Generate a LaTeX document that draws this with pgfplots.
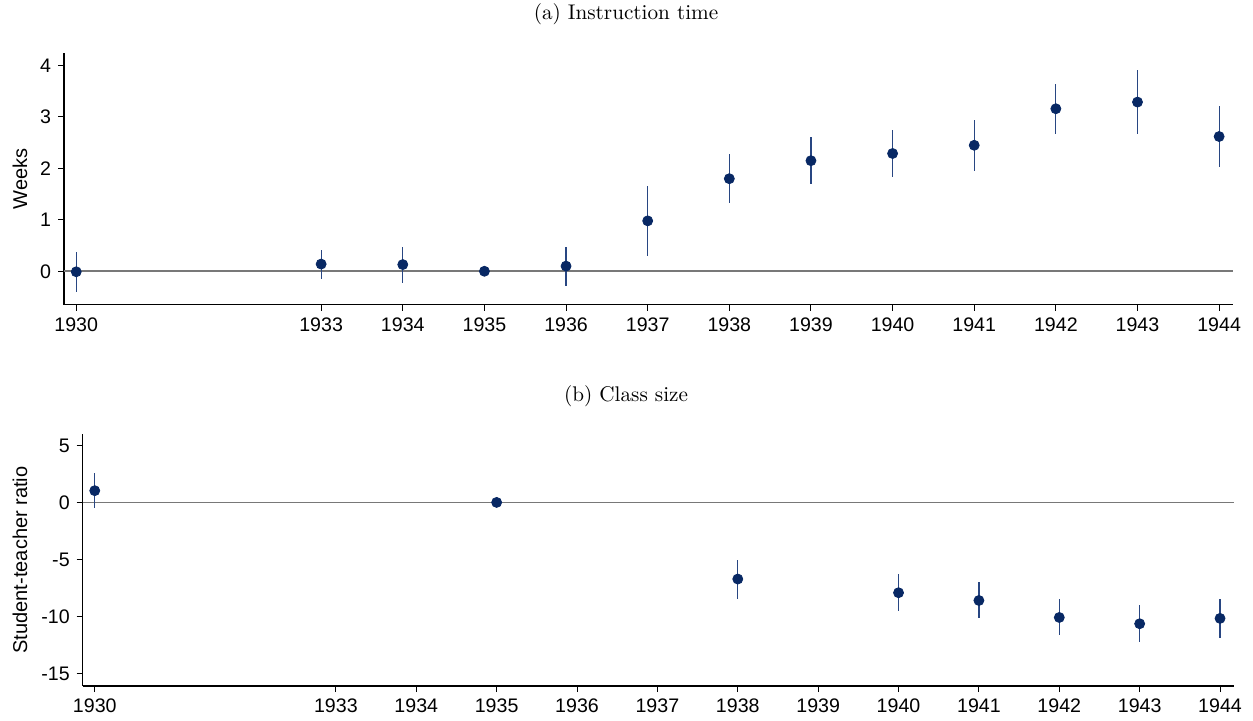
\documentclass[border=0pt]{standalone}
\usepackage{pgfplots}
\pgfplotsset{compat=1.18}
\usepackage{pgfplotstable}
\usepackage{fontspec}
\newfontfamily\hv{Liberation Sans}
\definecolor{navy}{RGB}{8,40,100}
\definecolor{cibar}{RGB}{40,70,130}
\definecolor{zline}{RGB}{120,120,120}

% year, estimate, plus, minus
\pgfplotstableread{
x y ep em
1930 -0.01 0.39 0.40
1933 0.14 0.28 0.29
1934 0.13 0.35 0.35
1935 0.00 0.00 0.00
1936 0.10 0.38 0.38
1937 0.98 0.68 0.69
1938 1.80 0.48 0.48
1939 2.15 0.47 0.46
1940 2.29 0.46 0.46
1941 2.45 0.50 0.50
1942 3.16 0.49 0.49
1943 3.29 0.63 0.62
1944 2.62 0.60 0.59
}\instr

\pgfplotstableread{
x y ep em
1930 1.03 1.55 1.55
1935 0.00 0.00 0.00
1938 -6.72 1.69 1.73
1940 -7.92 1.67 1.64
1941 -8.60 1.62 1.57
1942 -10.09 1.64 1.58
1943 -10.64 1.60 1.61
1944 -10.17 1.72 1.73
}\classs

\pgfplotsset{
  stata/.style={
    scale only axis,
    axis x line*=bottom,
    axis y line*=left,
    axis line style={-,black,line width=0.55pt},
    tick align=outside,
    major tick length=3pt,
    tick style={black,line width=0.5pt},
    xtick={1930,1933,1934,1935,1936,1937,1938,1939,1940,1941,1942,1943,1944},
    xticklabel style={/pgf/number format/1000 sep={}},
    xmin=1929.85, xmax=1944.17,
    ticklabel style={font=\hv\fontsize{9.8pt}{11pt}\selectfont},
    /pgf/number format/assume math mode=true,
    ylabel style={font=\hv\fontsize{10pt}{11pt}\selectfont, anchor=center},
    clip=false,
  },
}

\begin{document}
\begin{tikzpicture}
\useasboundingbox (0,0) rectangle (626.5pt,-360.5pt);
\node[font=\fontsize{10.6pt}{12pt}\selectfont] at (313pt,-7.2pt) {(a) Instruction time};
\node[font=\fontsize{10.6pt}{12pt}\selectfont] at (313pt,-198pt) {(b) Class size};

\begin{axis}[stata,
  at={(32pt,-26.35pt)}, anchor=north west,
  width=584.5pt, height=126pt,
  ymin=-0.65, ymax=4.25,
  ytick={0,1,2,3,4},
  ylabel={Weeks},
  ylabel style={at={(axis description cs:-0.0376,0.5)}},
]
\addplot[zline, line width=0.8pt, forget plot] coordinates {(1929.85,0) (1944.17,0)};
\addplot[draw=none, mark=none,
  error bars/.cd, y dir=both, y explicit, error mark=none,
  error bar style={cibar, line width=0.6pt}]
  table[x=x, y=y, y error plus=ep, y error minus=em] {\instr};
\addplot[only marks, mark=*, mark size=2.5pt, navy, mark options={fill=navy, draw=navy}]
  table[x=x, y=y] {\instr};
\end{axis}

\begin{axis}[stata,
  at={(41.35pt,-217pt)}, anchor=north west,
  width=575.5pt, height=126pt,
  ymin=-16.1, ymax=6.0,
  ytick={-15,-10,-5,0,5},
  ylabel={Student-teacher ratio},
  ylabel style={at={(axis description cs:-0.0545,0.5)}},
]
\addplot[zline, line width=0.8pt, forget plot] coordinates {(1929.85,0) (1944.17,0)};
\addplot[draw=none, mark=none,
  error bars/.cd, y dir=both, y explicit, error mark=none,
  error bar style={cibar, line width=0.6pt}]
  table[x=x, y=y, y error plus=ep, y error minus=em] {\classs};
\addplot[only marks, mark=*, mark size=2.5pt, navy, mark options={fill=navy, draw=navy}]
  table[x=x, y=y] {\classs};
\end{axis}
\end{tikzpicture}
\end{document}
